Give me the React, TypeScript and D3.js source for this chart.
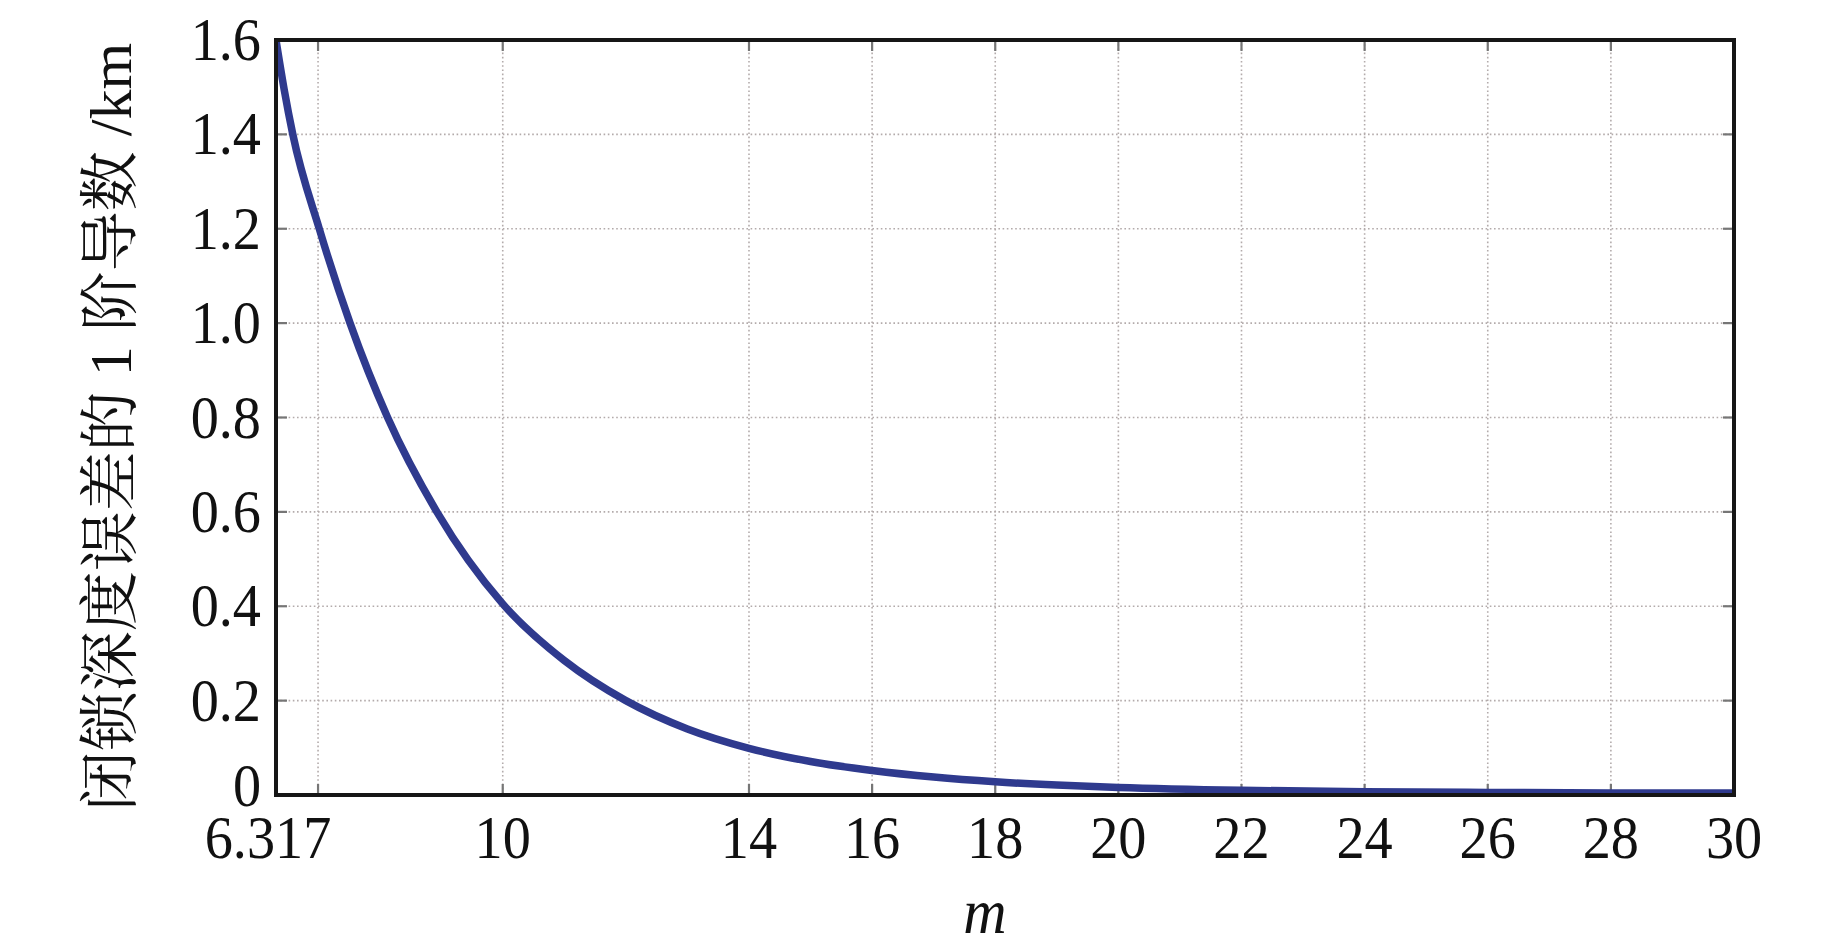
import React from "react";
import * as d3 from "d3";

const mValues = [6.317, 6.45, 6.59, 7.02, 7.52, 8.13, 8.93, 10.0, 11.0, 12.0, 13.0, 14.0, 15.0, 16.0, 17.0, 18.0, 19.0, 20.0, 22.0, 24.0, 26.0, 28.0, 30.0];
const derivValues = [1.6, 1.495, 1.4, 1.2, 1.0, 0.8, 0.6, 0.405, 0.285, 0.2, 0.14, 0.099, 0.071, 0.052, 0.038, 0.028, 0.021, 0.016, 0.01, 0.007, 0.0055, 0.0045, 0.004];

const xTicks = [7, 10, 14, 16, 18, 20, 22, 24, 26, 28, 30];
const xTickValues = [6.317, 10, 14, 16, 18, 20, 22, 24, 26, 28, 30];
const xTickLabels = ["6.317", "10", "14", "16", "18", "20", "22", "24", "26", "28", "30"];
const yTicks = [0, 0.2, 0.4, 0.6, 0.8, 1.0, 1.2, 1.4, 1.6];
const yTickLabels = ["0", "0.2", "0.4", "0.6", "0.8", "1.0", "1.2", "1.4", "1.6"];

const yTitle = "闭锁深度误差的 1 阶导数 /km";
const xTitle = "m";

const W = 1843;
const H = 945;
const L = 276;
const R = 1734;
const T = 40;
const B = 795;

const serif = "'Liberation Serif', 'Times New Roman', Times, serif";
const cjk = "'Liberation Serif', 'Noto Serif CJK SC', 'Noto Sans CJK SC', serif";

export default function App() {
  const x = d3.scaleLinear().domain([6.317, 30]).range([L, R]);
  const y = d3.scaleLinear().domain([0, 1.6]).range([B, T]);
  const pts: [number, number][] = mValues.map((m, i) => [m, derivValues[i]]);
  const line = d3
    .line<[number, number]>()
    .x((d) => x(d[0]))
    .y((d) => y(d[1]))
    .curve(d3.curveMonotoneX);

  const gridColor = "#b3abab";
  const tickColor = "#767676";
  const tickLen = 11;

  return (
    <svg
      width={W}
      height={H}
      style={{ position: "absolute", left: 0, top: 0, display: "block", background: "#fff" }}
    >
      <rect x={0} y={0} width={W} height={H} fill="#fff" />
      <defs>
        <clipPath id="plotclip">
          <rect x={L} y={T - 4} width={R - L} height={B - T + 4} />
        </clipPath>
      </defs>
      {/* grid */}
      {xTicks
        .filter((v) => v < 30)
        .map((v) => (
          <line
            key={"gx" + v}
            x1={x(v)}
            x2={x(v)}
            y1={T}
            y2={B}
            stroke={gridColor}
            strokeWidth={1.6}
            strokeDasharray="1.6,2.6"
          />
        ))}
      {yTicks
        .filter((v) => v > 0 && v < 1.6)
        .map((v) => (
          <line
            key={"gy" + v}
            x1={L}
            x2={R}
            y1={y(v)}
            y2={y(v)}
            stroke={gridColor}
            strokeWidth={1.6}
            strokeDasharray="1.6,2.6"
          />
        ))}
      {/* ticks */}
      {xTicks.map((v) => (
        <g key={"tx" + v}>
          <line x1={x(v)} x2={x(v)} y1={B} y2={B - tickLen} stroke={tickColor} strokeWidth={2.2} />
          <line x1={x(v)} x2={x(v)} y1={T} y2={T + tickLen} stroke={tickColor} strokeWidth={2.2} />
        </g>
      ))}
      {yTicks.map((v) => (
        <g key={"ty" + v}>
          <line x1={L} x2={L + tickLen} y1={y(v)} y2={y(v)} stroke={tickColor} strokeWidth={2.2} />
          <line x1={R} x2={R - tickLen} y1={y(v)} y2={y(v)} stroke={tickColor} strokeWidth={2.2} />
        </g>
      ))}
      {/* curve */}
      <path
        d={line(pts) || ""}
        fill="none"
        stroke="#2f3a8e"
        strokeWidth={7.5}
        strokeLinejoin="round"
        clipPath="url(#plotclip)"
      />
      {/* box */}
      <rect x={L} y={T} width={R - L} height={B - T} fill="none" stroke="#161616" strokeWidth={4} />
      {/* y tick labels */}
      {yTicks.map((v, i) => (
        <text
          key={"ly" + v}
          transform={`translate(261, ${y(v) + (v === 0 ? 11 : 20)}) scale(0.97, 1.07)`}
          textAnchor="end"
          fontFamily={serif}
          fontSize={58}
          fill="#111"
        >
          {yTickLabels[i]}
        </text>
      ))}
      {/* x tick labels */}
      {xTickValues.map((v, i) => (
        <text
          key={"lx" + v}
          transform={`translate(${i === 0 ? x(v) - 8 : x(v)}, 858) scale(0.97, 1.07)`}
          textAnchor="middle"
          fontFamily={serif}
          fontSize={58}
          fill="#111"
        >
          {xTickLabels[i]}
        </text>
      ))}
      {/* axis titles */}
      <text
        transform="translate(985, 933) scale(1, 1.05)"
        textAnchor="middle"
        fontFamily={serif}
        fontStyle="italic"
        fontSize={60}
        fill="#111"
      >
        {xTitle}
      </text>
      <text
        transform={`translate(131, 427) rotate(-90)`}
        textAnchor="middle"
        fontFamily={cjk}
        fontSize={60}
        fill="#111"
      >
        {yTitle}
      </text>
    </svg>
  );
}
